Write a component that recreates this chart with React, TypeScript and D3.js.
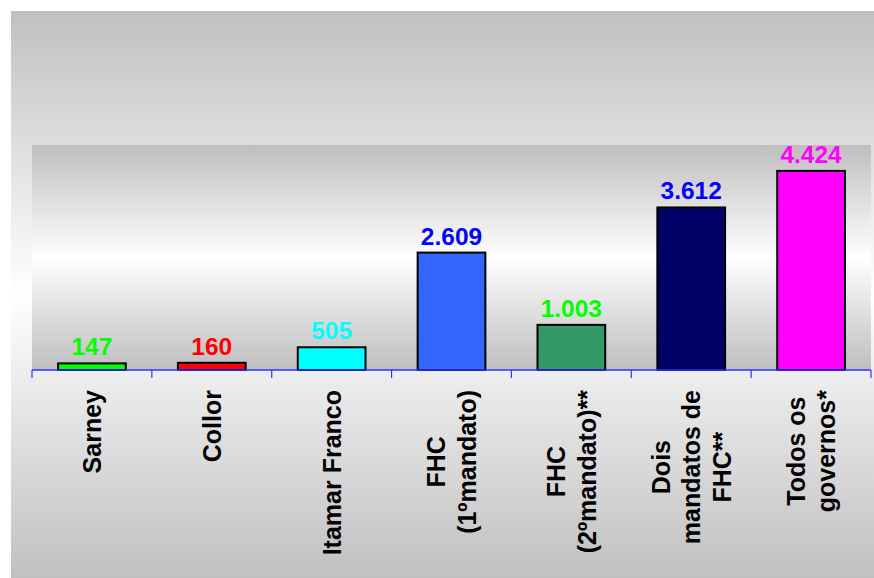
import React from "react";
import * as d3 from "d3";

// Categories (multi-line labels split on "\n"), values and colours
const categories: string[] = [
  "Sarney",
  "Collor",
  "Itamar Franco",
  "FHC\n(1ºmandato)",
  "FHC\n(2ºmandato)**",
  "Dois\nmandatos de\nFHC**",
  "Todos os\ngovernos*",
];
const values: number[] = [147, 160, 505, 2609, 1003, 3612, 4424];
const valueLabels: string[] = ["147", "160", "505", "2.609", "1.003", "3.612", "4.424"];
const barColors: string[] = ["#00ff00", "#ff0000", "#00ffff", "#3366ff", "#339966", "#000066", "#ff00ff"];
const labelColors: string[] = ["#00ff00", "#ff0000", "#00ffff", "#0000ff", "#00ff00", "#0000ff", "#ff00ff"];

const W = 874;
const H = 578;
const FONT = "'Liberation Sans', Arial, sans-serif";
const CAT_FONT_SIZE = 25;
const VALUE_FONT_SIZE = 24.5;

let measureCtx: CanvasRenderingContext2D | null = null;
function textWidth(s: string): number {
  if (!measureCtx) {
    const c = document.createElement("canvas");
    measureCtx = c.getContext("2d");
  }
  if (!measureCtx) return s.length * CAT_FONT_SIZE * 0.6;
  measureCtx.font = `bold ${CAT_FONT_SIZE}px ${FONT}`;
  return measureCtx.measureText(s).width;
}

export default function App() {
  const plot = { left: 32, right: 871, top: 145, bottom: 370 };

  const x = d3
    .scaleBand<string>()
    .domain(categories)
    .range([plot.left, plot.right])
    .paddingInner(0.435)
    .paddingOuter(0.2175);
  const step = x.step();
  const y = d3.scaleLinear().domain([0, 5000]).range([plot.bottom, plot.top]);

  const tickXs = d3.range(categories.length + 1).map((i) => plot.left + i * step);

  const lineGap = 30.5;
  const capHalf = CAT_FONT_SIZE * 0.358;
  const labelTop = 390;

  return (
    <svg
      width={W}
      height={H}
      style={{ position: "absolute", left: 0, top: 0, display: "block" }}
      fontFamily={FONT}
    >
      <defs>
        <linearGradient id="outerBg" x1="0" y1="0" x2="0" y2="1">
          <stop offset="0" stopColor="#c0c0c0" />
          <stop offset="0.5" stopColor="#ffffff" />
          <stop offset="1" stopColor="#c0c0c0" />
        </linearGradient>
        <linearGradient id="plotBg" x1="0" y1="0" x2="0" y2="1">
          <stop offset="0" stopColor="#bebebe" />
          <stop offset="0.5" stopColor="#ffffff" />
          <stop offset="1" stopColor="#bebebe" />
        </linearGradient>
      </defs>
      <rect x={0} y={0} width={W} height={H} fill="#ffffff" />
      <rect x={11} y={11} width={W - 11} height={H - 11} fill="url(#outerBg)" />
      <rect
        x={plot.left}
        y={plot.top}
        width={plot.right - plot.left}
        height={plot.bottom - plot.top}
        fill="url(#plotBg)"
      />

      {categories.map((c, i) => {
        const bx = x(c) as number;
        const top = y(values[i]);
        return (
          <g key={c}>
            <rect
              x={bx}
              y={top}
              width={x.bandwidth()}
              height={y(0) - top}
              fill={barColors[i]}
              stroke="#000000"
              strokeWidth={2}
            />
            <text
              x={bx + x.bandwidth() / 2}
              y={top - 8}
              textAnchor="middle"
              fontWeight="bold"
              fontSize={VALUE_FONT_SIZE}
              fill={labelColors[i]}
            >
              {valueLabels[i]}
            </text>
          </g>
        );
      })}

      {/* category axis */}
      <line x1={plot.left} x2={plot.right} y1={plot.bottom} y2={plot.bottom} stroke="#3333ff" strokeWidth={1.5} />
      {tickXs.map((tx, i) => (
        <line key={i} x1={tx} x2={tx} y1={plot.bottom} y2={plot.bottom + 8} stroke="#3333ff" strokeWidth={1.2} />
      ))}

      {categories.map((c) => {
        const lines = c.split("\n");
        const maxW = d3.max(lines, (l) => textWidth(l)) ?? 0;
        const cx = (x(c) as number) + x.bandwidth() / 2;
        const cy = labelTop + maxW / 2;
        const n = lines.length;
        return (
          <g key={"lbl" + c} transform={`translate(${cx},${cy}) rotate(-90)`}>
            {lines.map((l, j) => (
              <text
                key={j}
                x={0}
                y={(j - (n - 1) / 2) * lineGap + capHalf}
                textAnchor="middle"
                fontWeight="bold"
                fontSize={CAT_FONT_SIZE}
                fill="#000000"
              >
                {l}
              </text>
            ))}
          </g>
        );
      })}
    </svg>
  );
}
